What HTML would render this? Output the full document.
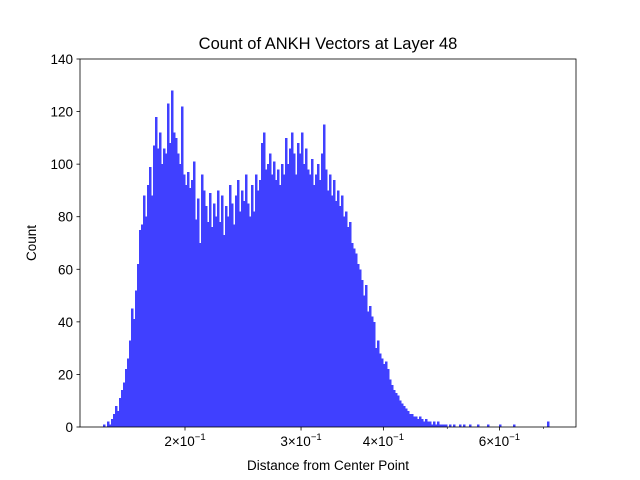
<!DOCTYPE html>
<html><head><meta charset="utf-8"><style>
body{margin:0;background:#fff;}
svg{display:block;font-family:"Liberation Sans","DejaVu Sans",sans-serif;}
</style></head><body>
<svg id="chart" width="640" height="480">
<rect x="0" y="0" width="640" height="480" fill="#fff"/>
<text x="328" y="49" font-size="16.5" text-anchor="middle">Count of ANKH Vectors at Layer 48</text>
<text x="328" y="470" font-size="13.5" text-anchor="middle">Distance from Center Point</text>
<text x="36" y="243" font-size="13.5" text-anchor="middle" transform="rotate(-90 36 243)">Count</text>
<g id="bars"></g>
<g id="axes"></g>
</svg>
<script>
const counts = [1,0,2,1,3, 5,8,6,11,14,
17,22,26,33, 45,41,52,62, 75,77,88,80, 92,99,88,107, 118,106,112,100, 106,104,123,108,
128,112,110,104, 100,122,96,92, 97,91,94,101, 79,87,70,96, 90,84,78,89, 76,85,80,90,
78,88,73,84, 80,92,85,77, 88,94,82,90, 86,96,85,80, 92,82,96,90, 94,108,112,98,
100,104,96,101, 94,98,92,100, 96,110,100,106, 112,104,96,108, 104,112,100,106,
98,96,102,92, 96,100,94,104, 115,98,90,96, 88,94,86,90, 84,88,80,82, 76,78,70,68,
66,62,60,56, 50,54,44,46, 42,40,30,33, 28,26,24,25, 22,18,16,14, 13,12,10,9,
8,7,6,5, 5,4,4,3, 4,3,2,3, 2,2,1,2, 1,2,1,1, 1,1,0,1,
0,1,0,0,1,0,1,0,0,1,0,0,0,1,0,0,0,0,1,0,0,0,0,0,1,0,0,0,0,0,0,1,0,0,0,0,0,0,0,0,0,0,0,0,0,0,0,0,2];
const binRange = [0.1502, 0.7134];
const yTicks = [0,20,40,60,80,100,120,140];
const xMajorTicks = [0.2,0.3,0.4,0.6];
const xMajorLabels = ["2","3","4","6"];
const xMinorTicks = [0.5,0.7];

const L=80,R=576,T=59,B=427;
const yMax=140;
const dLo=Math.log10(0.2)-105/659, dHi=Math.log10(0.2)+391/659;
function X(v){return L+(Math.log10(v)-dLo)/(dHi-dLo)*(R-L);}
function Y(v){return B-(v/yMax)*(B-T);}
const NS="http://www.w3.org/2000/svg";
const bars=document.getElementById('bars');
const axes=document.getElementById('axes');
const n=counts.length, l0=Math.log10(binRange[0]), l1=Math.log10(binRange[1]);
for(let i=0;i<n;i++){
  if(!counts[i]) continue;
  const a=Math.pow(10,l0+(l1-l0)*i/n), b=Math.pow(10,l0+(l1-l0)*(i+1)/n);
  const r=document.createElementNS(NS,'rect');
  r.setAttribute('x',X(a));r.setAttribute('width',Math.max(0.8,X(b)-X(a)+0.4));
  r.setAttribute('y',Y(counts[i]));r.setAttribute('height',B-Y(counts[i]));
  r.setAttribute('fill','#4040ff');
  r.setAttribute('shape-rendering','crispEdges');
  
  
  bars.appendChild(r);
}
function line(x1,y1,x2,y2,w){const e=document.createElementNS(NS,'line');e.setAttribute('x1',x1);e.setAttribute('y1',y1);e.setAttribute('x2',x2);e.setAttribute('y2',y2);e.setAttribute('stroke','#000');e.setAttribute('stroke-width',w||0.8);axes.appendChild(e);return e;}
const frame=document.createElementNS(NS,'rect');
frame.setAttribute('x',L);frame.setAttribute('y',T);frame.setAttribute('width',R-L);frame.setAttribute('height',B-T);
frame.setAttribute('fill','none');frame.setAttribute('stroke','#000');frame.setAttribute('stroke-width','0.8');


axes.appendChild(frame);
yTicks.forEach(v=>{
  line(L-3.5,Y(v),L,Y(v));
  const t=document.createElementNS(NS,'text');
  t.setAttribute('x',L-7);t.setAttribute('y',Y(v)+5);t.setAttribute('font-size','13.5');t.setAttribute('text-anchor','end');
  t.textContent=v;
  
  
  axes.appendChild(t);
});
xMajorTicks.forEach((v,i)=>{
  line(X(v),B,X(v),B+3.5);
  const t=document.createElementNS(NS,'text');
  t.setAttribute('x',X(v));t.setAttribute('y',B+19);t.setAttribute('font-size','13.5');t.setAttribute('text-anchor','middle');
  t.innerHTML=xMajorLabels[i]+'\u00d710<tspan dy="-6" font-size="9.5">\u22121</tspan>';
  
  
  axes.appendChild(t);
});
xMinorTicks.forEach(v=>line(X(v),B,X(v),B+2,0.6));
</script>
</body></html>
